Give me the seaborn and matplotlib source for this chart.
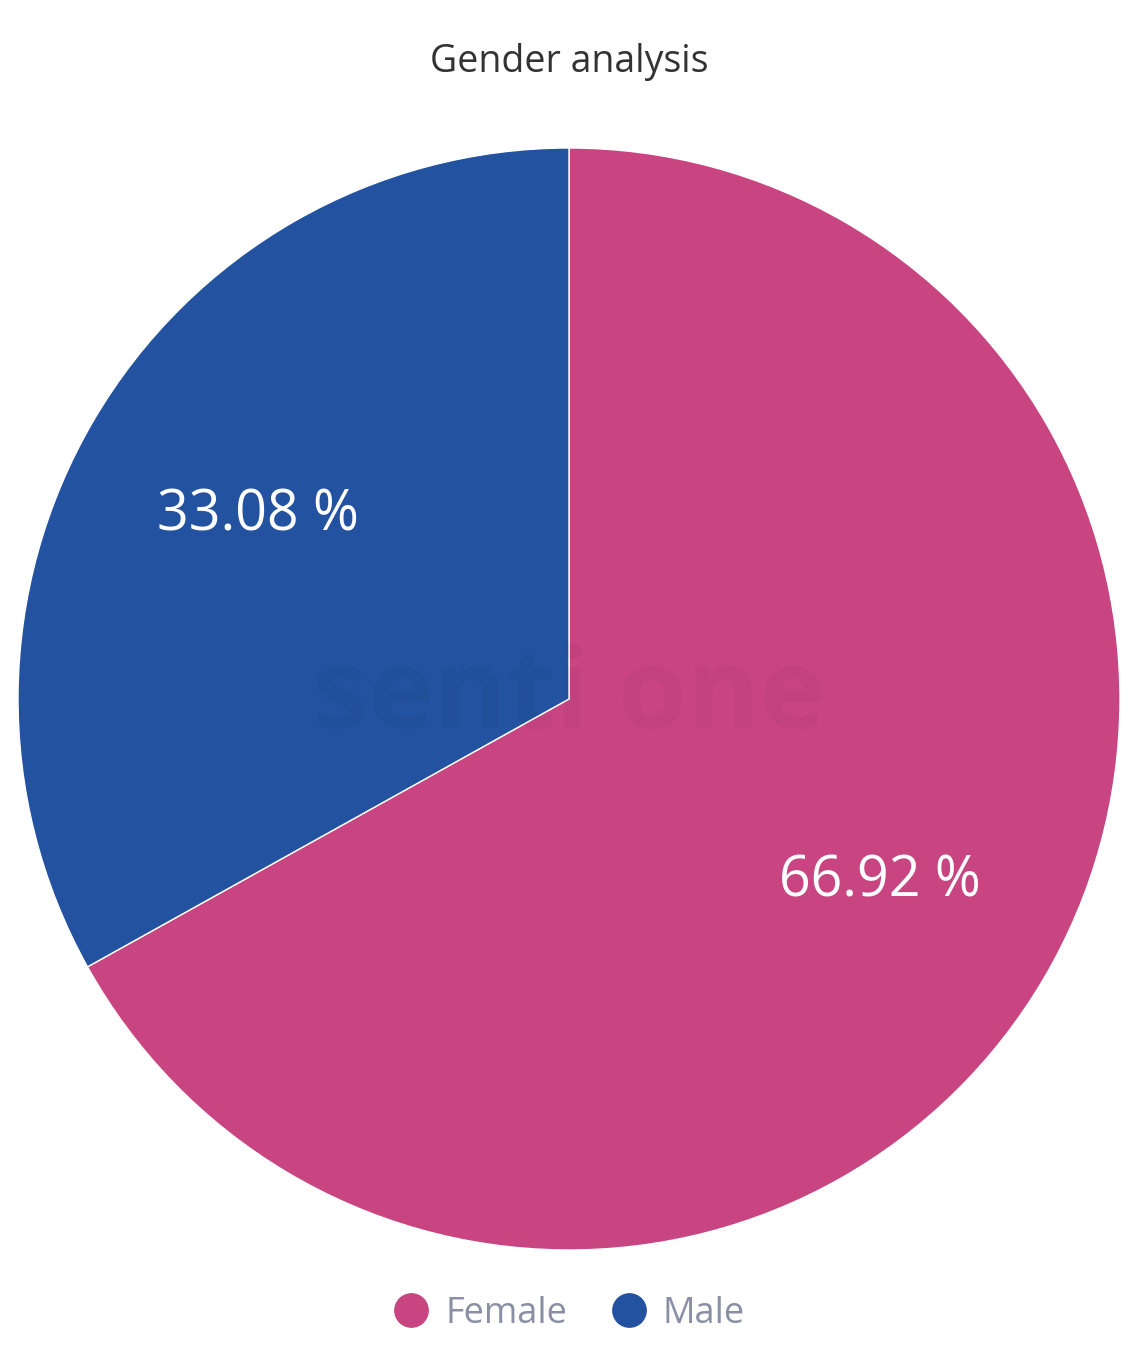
import matplotlib
matplotlib.use("Agg")
import matplotlib.pyplot as plt
import seaborn as sns
from matplotlib.lines import Line2D

categories = ["Female", "Male"]
shares = [66.92, 33.08]
colors = ["#C84581", "#2352A0"]

sns.set_theme(style="white")
plt.rcParams['font.family'] = ['Open Sans', 'DejaVu Sans']

fig = plt.figure(figsize=(11.38, 13.64), dpi=100)
ax = fig.add_axes([0.0158, 0.0836, 0.9684, 0.8079])

wedges, texts, autotexts = ax.pie(
    shares,
    colors=colors,
    startangle=90,
    counterclock=False,
    autopct=lambda p: f"{p:.2f} %",
    pctdistance=0.655,
    wedgeprops=dict(edgecolor="white", linewidth=1),
    textprops=dict(color="white", fontsize=40),
)
ax.set_aspect("equal")
ax.set_xlim(-1, 1)
ax.set_ylim(-1, 1)

# faint watermark
ax.text(0.0, 0.0, "senti one", ha="center", va="center", fontsize=80,
        fontweight="bold", color="black", alpha=0.03)

fig.text(0.5, 1 - 62 / 1364, "Gender analysis", ha="center", va="center",
         fontsize=27, color="#333333")

handles = [Line2D([0], [0], marker="o", linestyle="", markersize=24,
                  markerfacecolor=c, markeredgecolor=c) for c in colors]
fig.legend(handles, categories, loc="center", bbox_to_anchor=(0.5, 1 - 1314 / 1364),
           ncol=2, frameon=False, fontsize=26, labelcolor="#8A8FA3",
           handletextpad=0.45, columnspacing=1.2, handlelength=1.0)

fig.savefig("out.png", dpi=100)
